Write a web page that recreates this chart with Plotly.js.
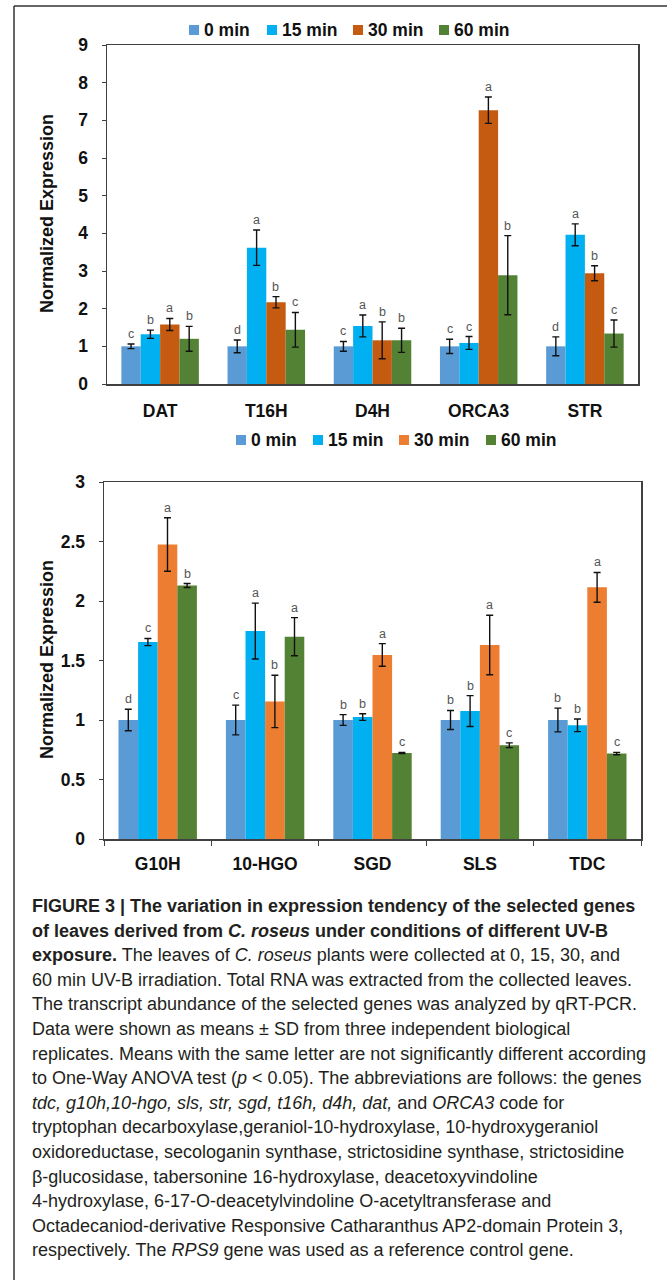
<!DOCTYPE html>
<html><head><meta charset="utf-8">
<script src="https://cdn.plot.ly/plotly-3.0.1.min.js"></script>
<style>html,body{margin:0;padding:0;background:#fff}#chart{width:667px;height:1280px}</style>
</head><body><div id="chart"></div>
<script>
// ---------- data ----------
const seriesNames = ['0 min', '15 min', '30 min', '60 min'];

const genesTop = ['DAT', 'T16H', 'D4H', 'ORCA3', 'STR'];
const top0  = [1.00, 1.00, 1.00, 1.00, 1.00];
const top15 = [1.32, 3.62, 1.54, 1.09, 3.96];
const top30 = [1.58, 2.17, 1.16, 7.27, 2.94];
const top60 = [1.20, 1.44, 1.16, 2.89, 1.34];
const topErr0  = [0.06, 0.17, 0.13, 0.19, 0.25];
const topErr15 = [0.11, 0.47, 0.29, 0.17, 0.29];
const topErr30 = [0.16, 0.15, 0.49, 0.35, 0.20];
const topErr60 = [0.33, 0.46, 0.32, 1.05, 0.36];
const topLet0  = ['c', 'd', 'c', 'c', 'd'];
const topLet15 = ['b', 'a', 'a', 'c', 'a'];
const topLet30 = ['a', 'b', 'b', 'a', 'b'];
const topLet60 = ['b', 'c', 'b', 'b', 'c'];

const genesBottom = ['G10H', '10-HGO', 'SGD', 'SLS', 'TDC'];
const bot0  = [1.00, 1.00, 1.00, 1.00, 1.00];
const bot15 = [1.655, 1.747, 1.025, 1.075, 0.955];
const bot30 = [2.475, 1.156, 1.547, 1.63, 2.115];
const bot60 = [2.13, 1.70, 0.723, 0.788, 0.718];
const botErr0  = [0.09, 0.125, 0.045, 0.08, 0.10];
const botErr15 = [0.03, 0.235, 0.028, 0.13, 0.053];
const botErr30 = [0.225, 0.22, 0.095, 0.25, 0.125];
const botErr60 = [0.017, 0.16, 0.005, 0.02, 0.01];
const botLet0  = ['d', 'c', 'b', 'b', 'b'];
const botLet15 = ['c', 'a', 'b', 'b', 'b'];
const botLet30 = ['a', 'b', 'a', 'a', 'a'];
const botLet60 = ['b', 'a', 'c', 'c', 'c'];

const yTitle = 'Normalized Expression';

const captionLines = [
  '<b>FIGURE 3 | The variation in expression tendency of the selected genes</b>',
  '<b>of leaves derived from <i>C. roseus</i> under conditions of different UV-B</b>',
  '<b>exposure.</b> The leaves of <i>C. roseus</i> plants were collected at 0, 15, 30, and',
  '60 min UV-B irradiation. Total RNA was extracted from the collected leaves.',
  'The transcript abundance of the selected genes was analyzed by qRT-PCR.',
  'Data were shown as means ± SD from three independent biological',
  'replicates. Means with the same letter are not significantly different according',
  'to One-Way ANOVA test (<i>p</i> &lt; 0.05). The abbreviations are follows: the genes',
  '<i>tdc, g10h,10-hgo, sls, str, sgd, t16h, d4h, dat,</i> and <i>ORCA3</i> code for',
  'tryptophan decarboxylase,geraniol-10-hydroxylase, 10-hydroxygeraniol',
  'oxidoreductase, secologanin synthase, strictosidine synthase, strictosidine',
  'β-glucosidase, tabersonine 16-hydroxylase, deacetoxyvindoline',
  '4-hydroxylase, 6-17-O-deacetylvindoline O-acetyltransferase and',
  'Octadecaniod-derivative Responsive Catharanthus AP2-domain Protein 3,',
  'respectively. The <i>RPS9</i> gene was used as a reference control gene.'
];

// ---------- styling ----------
const W = 667, H = 1280;
const px = x => x / W;
const py = y => 1 - y / H;
const FONT = 'Liberation Sans, Arial, sans-serif';
const topColors = ['#5B9BD5', '#00B0F0', '#C55A11', '#548235'];
const botColors = ['#5B9BD5', '#00B0F0', '#ED7D31', '#548235'];
const BARGAP = 0.27;

const topVals = [top0, top15, top30, top60];
const topErrs = [topErr0, topErr15, topErr30, topErr60];
const topLets = [topLet0, topLet15, topLet30, topLet60];
const botVals = [bot0, bot15, bot30, bot60];
const botErrs = [botErr0, botErr15, botErr30, botErr60];
const botLets = [botLet0, botLet15, botLet30, botLet60];

const traces = [];
function addBars(genes, vals, errs, colors, xa, ya) {
  for (let s = 0; s < 4; s++) {
    traces.push({
      type: 'bar', name: seriesNames[s], x: genes, y: vals[s],
      xaxis: xa, yaxis: ya, showlegend: false,
      marker: {color: colors[s], line: {width: 0}},
      error_y: {type: 'data', array: errs[s], visible: true, color: '#111', thickness: 1.4, width: 3.5}
    });
  }
}
addBars(genesTop, topVals, topErrs, topColors, 'x', 'y');
addBars(genesBottom, botVals, botErrs, botColors, 'x2', 'y2');

const annotations = [];
const shapes = [];
function letterAnns(genes, vals, errs, lets, xref, yref) {
  const w = (1 - BARGAP) / 4;
  for (let s = 0; s < 4; s++) {
    for (let i = 0; i < genes.length; i++) {
      annotations.push({
        xref: xref, yref: yref, x: i + (s - 1.5) * w, y: vals[s][i] + errs[s][i],
        text: lets[s][i], showarrow: false, yanchor: 'bottom', yshift: 1,
        font: {family: FONT, size: 12.5, color: '#555'}
      });
    }
  }
}
letterAnns(genesTop, topVals, topErrs, topLets, 'x', 'y');
letterAnns(genesBottom, botVals, botErrs, botLets, 'x2', 'y2');

// custom legends (square + label)
function legend(xs, yc, colors) {
  for (let s = 0; s < 4; s++) {
    shapes.push({type: 'rect', xref: 'paper', yref: 'paper',
      x0: px(xs[s]), x1: px(xs[s] + 10), y0: py(yc + 5), y1: py(yc - 5),
      fillcolor: colors[s], line: {width: 0}});
    annotations.push({xref: 'paper', yref: 'paper', x: px(xs[s] + 13), y: py(yc),
      xanchor: 'left', yanchor: 'middle', showarrow: false, text: seriesNames[s],
      font: {family: FONT, size: 17.5, color: '#111', weight: 700}});
  }
}
legend([189, 267, 353, 439], 30, topColors);
legend([236, 313, 399, 486], 440, botColors);

// y titles
[[214], [660]].forEach(([yc]) => {
  annotations.push({xref: 'paper', yref: 'paper', x: px(47), y: py(yc), textangle: -90,
    xanchor: 'center', yanchor: 'middle', showarrow: false, text: yTitle,
    font: {family: FONT, size: 18, color: '#111', weight: 700}});
});

// caption
captionLines.forEach((t, k) => {
  annotations.push({xref: 'paper', yref: 'paper', x: px(30), y: py(906 + k * 24.6),
    xanchor: 'left', yanchor: 'middle', align: 'left', showarrow: false, text: t,
    font: {family: FONT, size: 18, color: '#231F20'}});
});

// outer frame (top and left)
shapes.push({type: 'line', xref: 'paper', yref: 'paper', x0: px(14), x1: 1, y0: py(6), y1: py(6), line: {color: '#333', width: 1.5}});
shapes.push({type: 'line', xref: 'paper', yref: 'paper', x0: px(14), x1: px(14), y0: py(6), y1: 0, line: {color: '#333', width: 1.5}});

const tickFont = {family: FONT, size: 17.5, color: '#111', weight: 700};
const axisLine = {showline: true, mirror: true, linecolor: '#404040', linewidth: 1.5, showgrid: false, zeroline: false};

const layout = {
  width: W, height: H, margin: {l: 0, r: 0, t: 0, b: 0},
  paper_bgcolor: '#fff', plot_bgcolor: '#fff',
  barmode: 'group', bargap: BARGAP, bargroupgap: 0, showlegend: false,
  xaxis: Object.assign({domain: [px(107), px(638)], anchor: 'y', type: 'category',
    ticks: '', tickfont: tickFont, ticklabelstandoff: 10}, axisLine),
  yaxis: Object.assign({domain: [py(384), py(45)], anchor: 'x', range: [0, 9], dtick: 1,
    ticks: 'outside', ticklen: 4, tickcolor: '#404040', tickfont: tickFont, ticklabelstandoff: 10}, axisLine),
  xaxis2: Object.assign({domain: [px(104), px(641)], anchor: 'y2', type: 'category',
    ticks: 'outside', tickson: 'boundaries', ticklen: 5, tickcolor: '#404040', tickfont: tickFont, ticklabelstandoff: 8}, axisLine),
  yaxis2: Object.assign({domain: [py(839), py(482)], anchor: 'x2', range: [0, 3], dtick: 0.5,
    ticks: 'outside', ticklen: 4, tickcolor: '#404040', tickfont: tickFont, ticklabelstandoff: 10}, axisLine),
  annotations: annotations, shapes: shapes
};

Plotly.newPlot('chart', traces, layout, {staticPlot: true, displayModeBar: false});
</script>
</body></html>
